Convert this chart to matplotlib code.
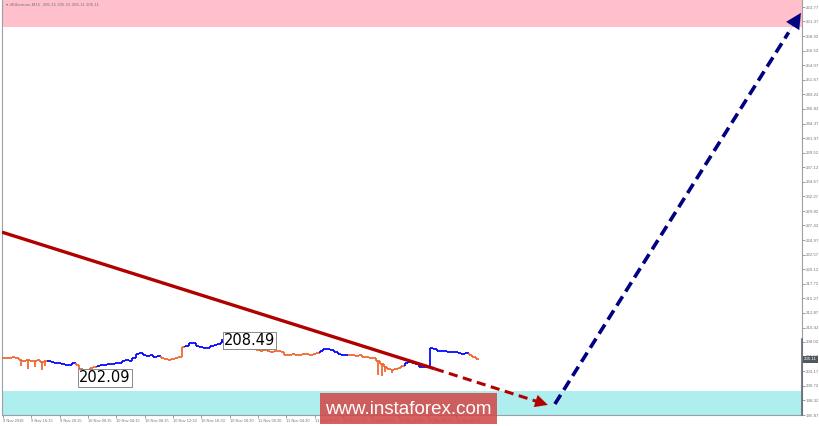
import matplotlib
matplotlib.use("Agg")
import matplotlib.pyplot as plt
from matplotlib.collections import LineCollection
import matplotlib.patches as mpatches

# ---------------- data ----------------
closes = [205.30, 205.40, 205.35, 205.45, 205.30, 205.00, 204.90, 205.10, 204.80, 204.90,
          205.00, 204.70, 204.80, 204.85, 204.75, 204.60, 204.50, 204.35, 204.25, 204.15,
          204.60, 204.20, 203.60, 203.00, 203.40, 203.70, 203.85, 204.00, 204.15, 204.20,
          204.30, 204.40, 204.50, 204.60, 204.80, 205.00, 204.90, 205.40, 206.10, 206.20,
          205.90, 205.70, 205.80, 205.60, 205.70, 205.40, 205.20, 205.10, 205.20, 205.30,
          205.50, 207.20, 207.30, 207.80, 207.90, 207.40, 207.20, 207.10, 207.00, 207.30,
          207.50, 207.70, 208.00, 207.50, 207.30, 207.10, 207.20, 207.00, 206.90, 207.10,
          206.80, 206.90, 206.70, 206.60, 206.70, 206.50, 206.40, 206.60, 206.50, 206.30,
          205.90, 205.80, 206.00, 205.90, 205.80, 206.00, 206.10, 205.90, 206.10, 206.20,
          206.50, 206.80, 206.90, 206.70, 206.40, 206.10, 205.90, 205.80, 205.90, 205.80,
          205.70, 205.80, 205.60, 205.50, 205.40, 205.30, 204.80, 204.30, 203.90, 203.50,
          203.40, 203.60, 203.70, 204.00, 204.60, 204.70, 204.50, 204.30, 203.90, 203.80,
          203.90, 207.00, 206.80, 206.60, 206.50, 206.60, 206.40, 206.30, 206.40, 206.20,
          206.10, 206.20, 205.80, 205.50, 205.11]
color_runs = [("o", 13), ("b", 8), ("o", 6), ("b", 18), ("o", 7), ("b", 11),
              ("o", 27), ("b", 8), ("o", 16), ("b", 18), ("o", 3)]
spike_idx = [5, 7, 9, 11, 12, 22, 23, 24, 62, 106, 107, 108, 110]
spike_val = [204.0, 203.6, 203.9, 203.4, 204.0, 202.09, 202.6, 202.9, 208.49, 202.6, 202.4, 203.0, 202.9]

low_idx, low_val = 21.5, 202.09
high_idx, high_val = 62.4, 208.49

tick_idx = [0, 8, 16, 24, 32, 40, 48, 56, 64, 72, 80, 88, 96, 104, 112, 120, 128]
tick_lbl = ["9 Nov 2018", "9 Nov 16:15", "9 Nov 20:15", "10 Nov 00:15", "10 Nov 04:15",
            "10 Nov 08:15", "10 Nov 12:30", "10 Nov 16:30", "10 Nov 20:30", "11 Nov 00:30",
            "11 Nov 04:30", "11 Nov 08:30", "11 Nov 12:30", "11 Nov 16:30", "11 Nov 20:30",
            "12 Nov 00:30", "12 Nov 04:30"]
price_ticks = [263.77, 261.37, 258.92, 256.52, 254.07, 251.67, 249.22, 246.82, 244.37,
               241.97, 239.52, 237.12, 234.67, 232.27, 229.82, 227.42, 224.97, 222.57,
               220.12, 217.72, 215.27, 212.87, 210.42, 208.02, 205.57, 203.17, 200.72,
               198.32, 195.87]

# wave forecast lines (time index, price)
red_x = [-0.28, 122.0, 153.9]
red_y = [226.3, 203.55, 197.55]
blue_x = [155.9, 225.4]
blue_y = [197.7, 262.8]

resist_zone = (260.44, 264.94)
support_zone = (195.87, 199.87)
last_price = 205.11

# ---------------- figure ----------------
W, H = 820, 426
fig = plt.figure(figsize=(W / 100, H / 100), dpi=100)
fig.patch.set_facecolor("white")
ax = fig.add_axes([2 / W, 11 / H, 800 / W, 415 / H])
ax.set_xlim(-0.28, 225.7)
ax.set_ylim(195.87, 264.94)
ax.set_facecolor("white")

ax.axhspan(*resist_zone, color="#FFC0CB", zorder=0, lw=0)
ax.axhspan(*support_zone, color="#AFEEEE", zorder=0, lw=0)

# price line (stepped)
cols = []
for c, n in color_runs:
    cols += [c] * n
cmap = {"o": "#F0642A", "b": "#0000FF"}
segs, scol = [], []
for i, v in enumerate(closes):
    segs.append([(i - 0.5, v), (i + 0.5, v)])
    scol.append(cmap[cols[i]])
    if i + 1 < len(closes):
        segs.append([(i + 0.5, v), (i + 0.5, closes[i + 1])])
        scol.append(cmap[cols[i + 1]])
for xi, yv in zip(spike_idx, spike_val):
    segs.append([(xi, closes[xi]), (xi, yv)])
    scol.append(cmap[cols[xi]])
ax.add_collection(LineCollection(segs, colors=scol, linewidths=1.25, zorder=3))

# red wave line
red = "#B00000"
ax.plot(red_x[:2], red_y[:2], color=red, lw=2.4, zorder=4, solid_capstyle="butt")
ax.plot([red_x[1], red_x[1] + (red_x[2] - red_x[1]) * 0.9],
        [red_y[1], red_y[1] + (red_y[2] - red_y[1]) * 0.9],
        color=red, lw=2.2, ls=(0, (3, 1.8)), zorder=4)
ax.annotate("", xy=(red_x[2], red_y[2]),
            xytext=(red_x[1] + (red_x[2] - red_x[1]) * 0.85, red_y[1] + (red_y[2] - red_y[1]) * 0.85),
            arrowprops=dict(arrowstyle="-|>,head_length=0.9,head_width=0.45", color=red, lw=0.1,
                            shrinkA=0, shrinkB=0), zorder=5)

# blue wave line
navy = "#000080"
bx_end = blue_x[0] + (blue_x[1] - blue_x[0]) * 0.95
by_end = blue_y[0] + (blue_y[1] - blue_y[0]) * 0.95
ax.plot([blue_x[0], bx_end], [blue_y[0], by_end], color=navy, lw=2.6, ls=(0, (3, 1.6)), zorder=4)
ax.annotate("", xy=(blue_x[1], blue_y[1]),
            xytext=(blue_x[0] + (blue_x[1] - blue_x[0]) * 0.93, blue_y[0] + (blue_y[1] - blue_y[0]) * 0.93),
            arrowprops=dict(arrowstyle="-|>,head_length=1.1,head_width=0.55", color=navy, lw=0.1,
                            shrinkA=0, shrinkB=0), zorder=5)

# extreme labels
box = dict(boxstyle="square,pad=0.08", facecolor="white", edgecolor="#777777", lw=0.6)
ax.text(high_idx, high_val - 0.25, f"{high_val:.2f}", fontsize=10.5, ha="left", va="center",
        family="DejaVu Sans", bbox=box, zorder=6)
ax.text(low_idx, low_val - 0.05, f"{low_val:.2f}", fontsize=10.5, ha="left", va="center",
        family="DejaVu Sans", bbox=box, zorder=6)

# axes styling
ax.spines["top"].set_visible(False)
for s in ["left", "bottom", "right"]:
    ax.spines[s].set_color("#9AA0A6")
    ax.spines[s].set_linewidth(0.8)
ax.yaxis.tick_right()
ax.set_yticks(price_ticks)
ax.set_yticklabels([f"{p:.2f}" for p in price_ticks], family="Liberation Sans")
ax.tick_params(axis="y", labelsize=3.2, colors="#777777", length=2, width=0.5, pad=0.8)
ax.set_xticks(tick_idx)
ax.set_xticklabels(tick_lbl, ha="left", family="Liberation Sans")
ax.tick_params(axis="x", labelsize=2.9, colors="#777777", length=2, width=0.5, pad=1)

# darker segment of the price scale
ax.plot([1, 1], [support_zone[0], 208.5], transform=ax.get_yaxis_transform(),
        color="#606870", lw=1.2, clip_on=False, zorder=6)

# current price tag
ax.text(1.0025, last_price, f"{last_price:.2f}", transform=ax.get_yaxis_transform(),
        fontsize=3.2, color="white", ha="left", va="center", family="Liberation Sans",
        bbox=dict(boxstyle="square,pad=0.3", facecolor="#505860", edgecolor="none"), zorder=7,
        clip_on=False)

# title
fig.text(6 / W, 1 - 5 / H, "\u25be #Ethereum,M15  205.15 205.15 205.11 205.11", fontsize=3.2,
         color="#777777", ha="left", va="center", family=["Liberation Sans", "DejaVu Sans"])

# watermark
fig.patches.append(mpatches.Rectangle((320 / W, 2 / H), 177 / W, 31 / H,
                                      transform=fig.transFigure, facecolor="#D24A4A",
                                      alpha=0.88, edgecolor="none", zorder=10))
fig.text(408 / W, 17 / H, "www.instaforex.com", fontsize=13.5, color="white",
         family="Liberation Sans", ha="center", va="center", zorder=11)

fig.savefig("out.png", dpi=100)
